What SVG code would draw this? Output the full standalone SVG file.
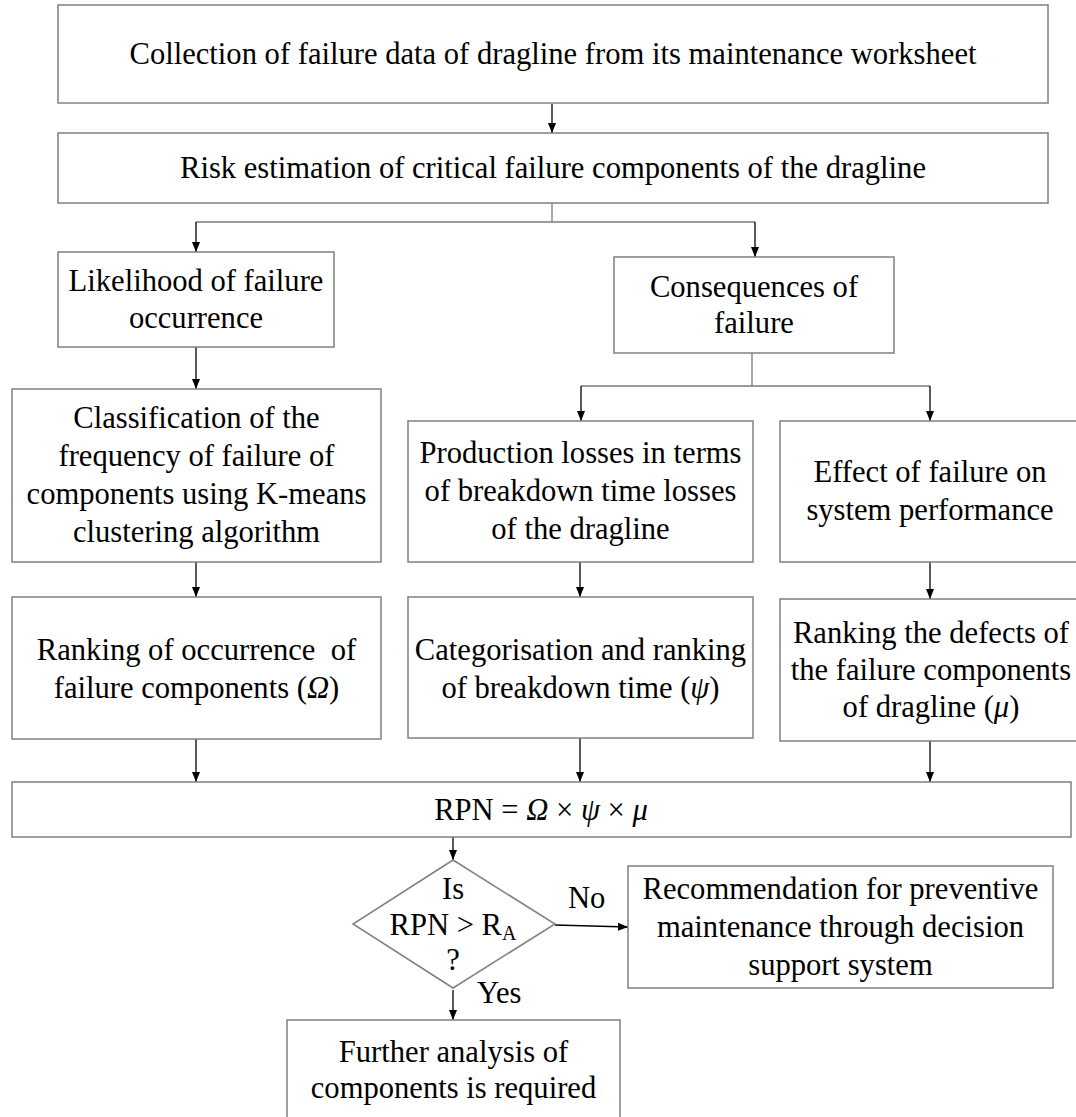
<svg xmlns="http://www.w3.org/2000/svg" width="1076" height="1117" viewBox="0 0 1076 1117">
<style>
.box{fill:#fff;stroke:#808080;stroke-width:1.5}
.t{font-family:"Liberation Serif","Times New Roman",serif;font-size:30.6px;fill:#000;text-anchor:middle}
.lbl{font-family:"Liberation Serif","Times New Roman",serif;font-size:30.6px;fill:#000}
.ar{stroke:#000;stroke-width:1.3;fill:none;marker-end:url(#ah)}
.br{stroke:#7a7a7a;stroke-width:1.3;fill:none}
</style>
<defs>
<marker id="ah" viewBox="0 0 10 10" refX="10" refY="5" markerWidth="10" markerHeight="10" markerUnits="userSpaceOnUse" orient="auto">
<path d="M0,1 L10,5 L0,9 Z" fill="#000"/>
</marker>
</defs>
<rect width="1076" height="1117" fill="#fff"/>
<g id="connectors">
<line class="ar" x1="552" y1="104" x2="552" y2="133"/>
<polyline class="br" points="552,203 552,222"/>
<polyline class="br" points="196,222 755,222"/>
<line class="ar" x1="196" y1="222" x2="196" y2="252"/>
<line class="ar" x1="755" y1="222" x2="755" y2="257"/>
<line class="ar" x1="196" y1="347" x2="196" y2="389"/>
<polyline class="br" points="752,353 752,386"/>
<polyline class="br" points="581,386 930,386"/>
<line class="ar" x1="581" y1="386" x2="581" y2="421"/>
<line class="ar" x1="930" y1="386" x2="930" y2="421"/>
<line class="ar" x1="196" y1="562" x2="196" y2="597"/>
<line class="ar" x1="580" y1="562" x2="580" y2="597"/>
<line class="ar" x1="930" y1="562" x2="930" y2="599"/>
<line class="ar" x1="196" y1="739" x2="196" y2="782"/>
<line class="ar" x1="580" y1="738" x2="580" y2="782"/>
<line class="ar" x1="930" y1="741" x2="930" y2="782"/>
<line class="ar" x1="453" y1="837" x2="453" y2="860"/>
<line class="ar" x1="555" y1="925" x2="628" y2="927"/>
<line class="ar" x1="453" y1="990" x2="453" y2="1020"/>
<text class="lbl" x="568" y="908">No</text>
<text class="lbl" x="477" y="1003">Yes</text>
</g>
<g id="n1">
<rect class="box" x="58" y="5" width="990" height="98"/>
<text class="t" x="553" y="64">Collection of failure data of dragline from its maintenance worksheet</text>
</g>
<g id="n2">
<rect class="box" x="58" y="133" width="990" height="70"/>
<text class="t" x="553" y="178">Risk estimation of critical failure components of the dragline</text>
</g>
<g id="n3">
<rect class="box" x="58" y="252" width="276" height="95"/>
<text class="t" x="196" y="291">Likelihood of failure</text>
<text class="t" x="196" y="328">occurrence</text>
</g>
<g id="n4">
<rect class="box" x="614" y="257" width="280" height="96"/>
<text class="t" x="754" y="297">Consequences of</text>
<text class="t" x="754" y="333">failure</text>
</g>
<g id="n5">
<rect class="box" x="12" y="389" width="369" height="173"/>
<text class="t" x="196.5" y="428">Classification of the</text>
<text class="t" x="196.5" y="466">frequency of failure of</text>
<text class="t" x="196.5" y="504">components using K-means</text>
<text class="t" x="196.5" y="542">clustering algorithm</text>
</g>
<g id="n6">
<rect class="box" x="408" y="421" width="345" height="141"/>
<text class="t" x="580.5" y="463">Production losses in terms</text>
<text class="t" x="580.5" y="501">of breakdown time losses</text>
<text class="t" x="580.5" y="539">of the dragline</text>
</g>
<g id="n7">
<rect class="box" x="780" y="421" width="300" height="141"/>
<text class="t" x="930" y="482">Effect of failure on</text>
<text class="t" x="930" y="520">system performance</text>
</g>
<g id="n8">
<rect class="box" x="12" y="597" width="369" height="142"/>
<text class="t" x="196.5" y="660" style="white-space:pre">Ranking of occurrence  of</text>
<text class="t" x="196.5" y="698">failure components (<tspan font-style="italic">Ω</tspan>)</text>
</g>
<g id="n9">
<rect class="box" x="408" y="597" width="345" height="141"/>
<text class="t" x="580.5" y="660">Categorisation and ranking</text>
<text class="t" x="580.5" y="698">of breakdown time (<tspan font-style="italic">ψ</tspan>)</text>
</g>
<g id="n10">
<rect class="box" x="780" y="599" width="300" height="142"/>
<text class="t" x="931" y="643">Ranking the defects of</text>
<text class="t" x="931" y="680">the failure components</text>
<text class="t" x="931" y="717">of dragline (<tspan font-style="italic">μ</tspan>)</text>
</g>
<g id="n11">
<rect class="box" x="12" y="782" width="1059" height="55"/>
<text class="t" x="541" y="820">RPN = <tspan font-style="italic">Ω</tspan> × <tspan font-style="italic">ψ</tspan> × <tspan font-style="italic">μ</tspan></text>
</g>
<g id="n12">
<polygon class="box" points="453,860 555,924 453,988 353,924"/>
<text class="t" x="453" y="899">Is</text>
<text class="t" x="453" y="935">RPN &gt; R<tspan font-size="20" dy="5">A</tspan></text>
<text class="t" x="453" y="970">?</text>
</g>
<g id="n13">
<rect class="box" x="628" y="866" width="425" height="122"/>
<text class="t" x="840.5" y="899">Recommendation for preventive</text>
<text class="t" x="840.5" y="937">maintenance through decision</text>
<text class="t" x="840.5" y="975">support system</text>
</g>
<g id="n14">
<rect class="box" x="287" y="1020" width="333" height="110"/>
<text class="t" x="453.5" y="1062">Further analysis of</text>
<text class="t" x="453.5" y="1098">components is required</text>
</g>
</svg>
